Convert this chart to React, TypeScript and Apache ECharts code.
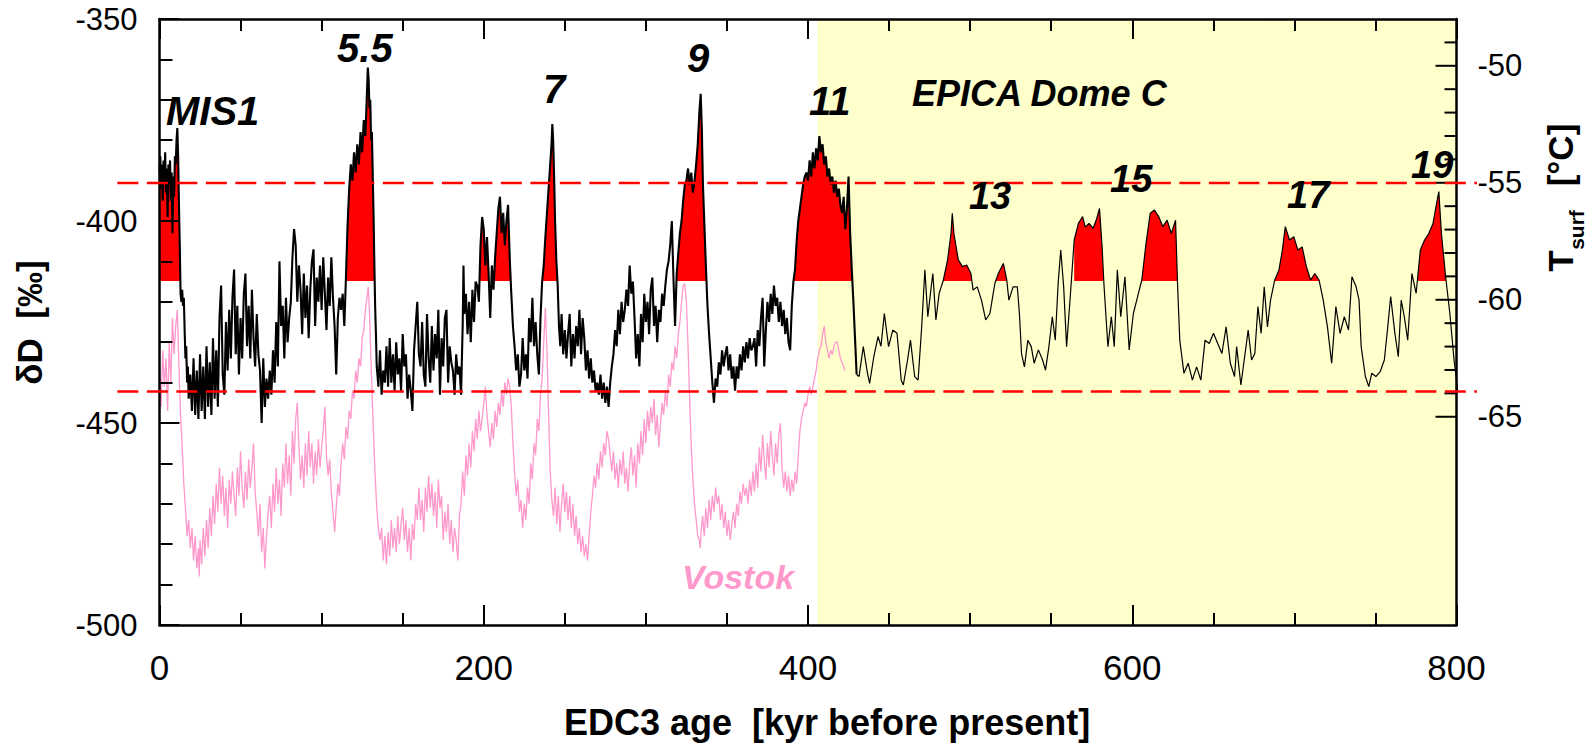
import React, { useEffect, useRef } from "react";
import * as echarts from "echarts";

// EPICA Dome C deuterium (age kyr BP, δD ‰) – high resolution part
const edcDense: [number, number][] = [
  [0,-388],[0.5,-384],[1,-392],[1.5,-386],[2,-395],[2.5,-385],[3,-390],[3.5,-383],[4,-393],[4.5,-387],[5,-399],[5.5,-386],[6,-391],[6.5,-385],[7,-395],[7.5,-388],[8,-403],[8.5,-389],[9,-394],[9.5,-384],[10,-386],[10.5,-380],[11,-377],[11.5,-384],[12,-396],[12.5,-406],[13,-418],[13.5,-420],[14,-417],[14.5,-421],[15,-419],[15.5,-427],[16,-434],[16.5,-431],[17,-440],[17.5,-436],[18,-444],
  [19,-438],[20,-447],[21,-434],[22,-448],[23,-437],[24,-449],[25,-433],[26,-447],[27,-436],[28,-449],[29,-431],[30,-446],[31,-435],[32,-448],[33,-429],[34,-444],[35,-432],[36,-446],[37,-424],[38,-416],[39,-438],[40,-443],[41,-425],[42,-437],[43,-422],[44,-434],[45,-419],[46,-412],[47,-433],[48,-421],[49,-438],[50,-424],[51,-434],[52,-418],[53,-413],[54,-431],[55,-421],[56,-434],[57,-417],[58,-429],[59,-436],[60,-423],[61,-433],[62,-437],[63,-450],[64,-434],[65,-446],[66,-439],[67,-444],[68,-437],[69,-443],[70,-432],[71,-440],[72,-425],[73,-436],[74,-410],[75,-426],[76,-421],[77,-434],[78,-419],[79,-430],[80,-424],[81,-420],[82,-409],[83,-402],[84,-406],[85,-420],[86,-411],[87,-417],[88,-428],[89,-413],[90,-424],[91,-416],[92,-429],[93,-417],[94,-410],[95,-407],[96,-426],[97,-414],[98,-420],[99,-411],[100,-422],[101,-409],[102,-418],[103,-427],[104,-414],[105,-421],[106,-409],[107,-419],[108,-426],[109,-438],[110,-424],[111,-419],[112,-422],[113,-418],[114,-426],
  [115,-414],[116,-401],[117,-392],[118,-386],[119,-390],[120,-383],[121,-388],[122,-381],[123,-386],[124,-378],[125,-383],[126,-375],[127,-379],[127.8,-370],[128.5,-362],[129,-365],[129.5,-372],[130,-370],[130.5,-380],[131,-378],[131.5,-388],[132,-398],[132.5,-410],[133,-421],[133.5,-428],[134,-436],[135,-441],
  [136,-432],[137,-443],[138,-437],[139,-440],[140,-431],[141,-441],[142,-429],[143,-440],[144,-433],[145,-442],[146,-430],[147,-438],[148,-434],[149,-442],[150,-428],[151,-436],[152,-433],[153,-444],[154,-438],[155,-442],[156,-447],[157,-432],[158,-426],[159,-420],[160,-433],[161,-436],[162,-425],[163,-438],[164,-441],[165,-423],[166,-434],[167,-440],[168,-426],[169,-437],[170,-428],[171,-434],[172,-422],[173,-443],[174,-429],[175,-436],[176,-424],[177,-422],[178,-440],[179,-431],[180,-435],[181,-437],[182,-443],[183,-433],[184,-438],[185,-436],[186,-443],[187,-426],[187.5,-411],[188,-423],[189,-418],[190,-428],[191,-420],[192,-430],[193,-417],[194,-425],[195,-415],[196,-416],[197,-420],[198,-406],[199,-399],[200,-402],[201,-411],[202,-404],[203,-413],[204,-424],[205,-411],[206,-417],[207,-409],[208,-403],[209,-397],[210,-394],[211,-403],[212,-398],[213,-406],[214,-400],[215,-396],[216,-409],[217,-418],[218,-426],[219,-431],[220,-437],[221,-433],[222,-441],[223,-438],[224,-429],[225,-437],[226,-433],[227,-439],[228,-424],[229,-430],[230,-419],[231,-431],[232,-425],[233,-433],[234,-438],[235,-424],[236,-415],[237,-411],[238,-404],[239,-398],[240,-392],[241,-386],[241.8,-381],[242.3,-376],[242.8,-380],[243.4,-389],[244,-400],[244.8,-410],[245.6,-416],[246.4,-426],[247.2,-431],
  [248,-423],[249,-433],[250,-427],[251,-434],[252,-428],[253,-423],[254,-436],[255,-428],[256,-434],[257,-426],[258,-431],[259,-422],[260,-433],[261,-424],[262,-429],[263,-437],[264,-432],[265,-439],[266,-434],[267,-440],[268,-437],[269,-442],[270,-440],[271,-443],[272,-438],[273,-444],[274,-440],[275,-445],[276,-441],[277,-446],[278,-440],[279,-436],[280,-433],[281,-427],[282,-431],[283,-422],[284,-428],[285,-420],[286,-425],[287,-422],[288,-417],[289,-421],[290,-411],[291,-418],[292,-415],[293,-424],[294,-434],[295,-428],[296,-436],[297,-423],[298,-430],[299,-418],[300,-425],[301,-420],[302,-428],[303,-417],[304,-414],[305,-426],[306,-421],[307,-430],[308,-422],[309,-425],[310,-418],[311,-421],[312,-416],[313,-412],[314,-410],[315,-406],[316,-400],[317,-414],[318,-426],[319,-413],[320,-408],[321,-403],[322,-400],[323,-395],[324,-391],[325,-390],[326,-387],[327,-391],[328,-388],[329,-393],[330,-390],[331,-386],[332,-381],[333,-373],[333.8,-368.5],[334.5,-377],[335.2,-391],[336,-400],[337,-411],[338,-421],[339,-428],[340,-434],[341,-440],[342,-445],
  [343,-439],[344,-441],[345,-435],[346,-438],[347,-432],[348,-436],[349,-433],[350,-431],[351,-437],[352,-433],[353,-439],[354,-436],[355,-442],[356,-436],[357,-439],[358,-433],[359,-437],[360,-431],[361,-435],[362,-430],[363,-434],[364,-429],[365,-432],[366,-431],[367,-429],[368,-436],[369,-427],[370,-431],[371,-424],[372,-419],[373,-436],[374,-427],[375,-420],[376,-425],[377,-418],[378,-423],[379,-416],[380,-421],[381,-419],[382,-425],[383,-420],[384,-426],[385,-422],[386,-428],[387,-424],[388,-430],[389,-432],[390,-421],[391,-415],[392,-412],[393,-405],[394,-400],[395,-397],[396,-394],[397,-391],[398,-389],[399,-388],[400,-390],
  [401,-385],[402,-389],[403,-383],[404,-387],[405,-382],[406,-385],[407,-379],[408,-383],[409,-381],[410,-386],[411,-384],[412,-389],[413,-387],[414,-391],[415,-389],[416,-393],[417,-390],[418,-394],[419,-392],[420,-396],[421,-398],[422,-394],[423,-402],[424,-397],[425,-389],[426,-403],[427,-412],[428,-420],[429,-429],[430,-438]
];

// EPICA Dome C deuterium – lower resolution older part
const edcCoarse: [number, number][] = [
  [430,-438],[431.5,-438.5],[434.1,-431.1],[436.7,-437.7],[438,-440.2],[440.6,-433.6],[443.2,-428.6],[445,-431],[447.1,-422.9],[449.7,-431.1],[452.3,-427],[454.9,-427.8],[457.5,-439.4],[458.8,-440.6],[461.4,-434.4],[463.2,-429.5],[465.8,-438.5],[467.9,-439.4],[470,-427],[472.1,-412.1],[473.9,-423.7],[475.5,-418],[477,-413],[478.9,-424.5],[480.9,-417.9],[483.5,-414.6],[486.1,-409.6],[488.2,-403.1],[489,-398.1],[490,-403.1],[492.7,-409.6],[495.3,-411.3],[497.9,-410.9],[500.5,-413],[501.8,-417.1],[504.4,-416.3],[507,-419.6],[509.6,-424.5],[512.2,-422.9],[515.3,-415.4],[517.4,-413],[520.5,-410.5],[522.6,-414.6],[523.9,-419.6],[526.5,-416.3],[529.1,-416.3],[530.4,-422.9],[531.7,-432.8],[533.5,-436.1],[535.6,-429.5],[537.7,-431.1],[539.5,-435.2],[542.1,-431.9],[544.7,-434.4],[546.5,-436.9],[548.6,-431.1],[550.7,-423.7],[552.5,-429.5],[554.3,-415.4],[555.9,-407.2],[557.7,-416.3],[559.5,-431.1],[561.6,-419.6],[564.2,-404.7],[566.8,-400.6],[569.4,-398.9],[571,-401.5],[573.3,-400.6],[575.9,-401.8],[578,-399.5],[579.8,-396.9],[581.4,-406.4],[582.5,-415.4],[583.8,-423.7],[585,-431.1],[587.1,-423.7],[588.9,-431.1],[590.8,-412.1],[592.9,-423.7],[595.5,-413.8],[598.1,-431.9],[600.7,-422.9],[603.3,-418.7],[605.9,-414.6],[608.5,-405.5],[611.1,-398.1],[613.7,-397.3],[616.3,-398.9],[618.9,-401.4],[621.5,-399.8],[624.1,-403.1],[626.7,-399.8],[628,-416.3],[629.3,-429.5],[631.9,-437.7],[634.5,-435.2],[637.1,-439.4],[639.7,-436.1],[642.3,-439.4],[644.9,-429.5],[647.5,-430.3],[650.1,-427.8],[652.7,-430.3],[655.3,-432.8],[657.9,-426.2],[660.5,-435.2],[663.1,-438.5],[664.4,-431.1],[667,-440.6],[669.6,-432.8],[671.5,-427],[673.6,-434.4],[675.6,-432.8],[677.5,-421.2],[679.5,-427.8],[681.4,-416.3],[683.4,-426.2],[685.3,-419.6],[687.9,-414.6],[690.5,-412.1],[692.6,-407.2],[694.4,-401.4],[697,-404.7],[699.6,-403.9],[702.2,-407.2],[704.8,-406.4],[707.4,-411.3],[710,-414.6],[712.6,-413],[715.2,-414.6],[717.8,-419.6],[720.4,-426.2],[723,-435.2],[725.6,-421.2],[728.2,-427.8],[730.8,-423.7],[733.4,-427],[735.5,-413.8],[738.1,-416.3],[739.9,-419.6],[741.2,-431.1],[743.8,-438.5],[745.9,-441],[747.7,-437.7],[750.3,-438.5],[752.9,-437.3],[755.5,-434.4],[757.6,-426.2],[759.4,-418.7],[762,-427.8],[764.1,-433.6],[765.9,-419.6],[767.8,-423.7],[769.9,-429.5],[772.5,-413],[775.1,-417.9],[777.7,-407.2],[780.3,-404.7],[782.9,-403.1],[785.5,-400.6],[788.1,-394.8],[789.1,-392.7],[790.7,-403.1],[793.3,-413.8],[795.9,-422.9],[798.5,-434.4],[801,-442.7]
];

// Vostok deuterium (shifted), age kyr BP, δD ‰
const vostok: [number, number][] = [
  [0,-438],[1,-446],[2,-432],[3,-441],[4,-434],[5,-447],[6,-430],[7,-440],[8,-424],[9,-433],[10,-426],[11,-422],[12,-436],[13,-448],[14,-456],[15,-465],[16,-471],[17,-478],[18,-474],[19,-481],[20,-476],[21,-484],[22,-478],[23,-486],[24,-481],[24.5,-488],[25,-479],[26,-485],[27,-476],[28,-483],[29,-474],[30,-481],[31,-471],[32,-478],[33,-468],[34,-475],[35,-465],[36,-472],[37,-461],[38,-470],[39,-463],[40,-473],[41,-466],[42,-476],[43,-464],[44,-470],[45,-462],[46,-468],[47,-473],[48,-461],[49,-468],[50,-457],[51,-466],[52,-471],[53,-462],[54,-469],[55,-459],[56,-466],[57,-461],[58,-455],[59,-467],[60,-472],[61,-478],[62,-470],[63,-482],[64,-476],[65,-486],[66,-478],[67,-472],[68,-468],[69,-476],[70,-465],[71,-472],[72,-461],[73,-470],[74,-464],[75,-473],[76,-460],[77,-466],[78,-455],[79,-465],[80,-458],[81,-468],[82,-452],[83,-460],[84,-449],[85,-445],[86,-456],[87,-464],[88,-458],[89,-466],[90,-455],[91,-463],[92,-452],[93,-461],[94,-455],[95,-465],[96,-457],[97,-463],[98,-454],[99,-461],[100,-456],[101,-452],[102,-446],[103,-458],[104,-463],[105,-459],[106,-467],[107,-472],[108,-477],[109,-471],[110,-465],[111,-468],[112,-460],[113,-455],[114,-459],[115,-451],[116,-454],[117,-447],[118,-449],[119,-442],[120,-444],[121,-437],[122,-440],[123,-434],[124,-436],[125,-429],[126,-427],[127,-422],[128,-419],[128.7,-416.3],[129.3,-420],[130,-429],[131,-441],[132,-453],[133,-463],[134,-471],[135,-476],[136,-479],[137,-476],[138,-484],[139,-478],[140,-485],[141,-477],[142,-483],[143,-474],[144,-481],[145,-476],[146,-482],[147,-473],[148,-480],[149,-475],[150,-471],[151,-479],[152,-474],[153,-482],[154,-476],[155,-484],[156,-475],[157,-479],[158,-470],[159,-474],[160,-466],[161,-474],[162,-469],[163,-477],[164,-466],[165,-472],[166,-463],[167,-471],[168,-465],[169,-473],[170,-467],[171,-476],[172,-464],[173,-471],[174,-468],[175,-479],[176,-472],[177,-477],[178,-470],[179,-480],[180,-474],[181,-482],[182,-476],[183,-479],[184,-484],[185,-473],[186,-470],[187,-462],[188,-468],[189,-458],[190,-463],[191,-455],[192,-461],[193,-452],[194,-457],[195,-449],[196,-454],[197,-447],[198,-452],[199,-449],[200,-445],[201,-441],[202,-448],[203,-452],[204,-456],[205,-450],[206,-454],[207,-447],[208,-451],[209,-445],[210,-448],[211,-442],[212,-446],[213,-440],[214,-443],[215,-439],[216,-441],[217,-446],[218,-455],[219,-462],[220,-468],[221,-464],[222,-472],[223,-469],[224,-476],[225,-470],[226,-474],[227,-466],[228,-470],[229,-460],[230,-464],[231,-455],[232,-458],[233,-449],[234,-452],[235,-443],[236,-439],[237,-430],[238,-421.5],[239,-432],[240,-448],[241,-462],[242,-469],[243,-473],[244,-466],[245,-475],[246,-468],[247,-477],[248,-470],[249,-465],[250,-472],[251,-467],[252,-474],[253,-468],[254,-476],[255,-470],[256,-478],[257,-473],[258,-480],[259,-476],[260,-482],[261,-478],[262,-483],[263,-480],[264,-484],[265,-478],[266,-472],[267,-468],[268,-463],[269,-466],[270,-460],[271,-464],[272,-457],[273,-461],[274,-455],[275,-458],[276,-452],[277,-454],[278,-458],[279,-462],[280,-457],[281,-464],[282,-460],[283,-466],[284,-459],[285,-463],[286,-457],[287,-465],[288,-461],[289,-467],[290,-460],[291,-456],[292,-463],[293,-458],[294,-466],[295,-455],[296,-460],[297,-452],[298,-458],[299,-449],[300,-455],[301,-447],[302,-452],[303,-446],[304,-450],[305,-444],[306,-453],[307,-448],[308,-456],[309,-450],[310,-445],[311,-448],[312,-442],[313,-446],[314,-438],[315,-441],[316,-435],[317,-437],[318,-431],[319,-434],[320,-428],[321,-425],[322,-420],[323,-416],[324,-415.5],[325,-420],[326,-431],[327,-444],[328,-456],[329,-464],[330,-470],[331,-474],[332,-478],[333,-479],[333.6,-481],[334,-477],[335,-473],[336,-478],[337,-471],[338,-476],[339,-469],[340,-474],[341,-468],[342,-472],[343,-466],[344,-470],[345,-468],[346,-474],[347,-470],[348,-476],[349,-472],[350,-478],[351,-474],[352,-479],[353,-475],[354,-472],[355,-476],[356,-470],[357,-473],[358,-467],[359,-470],[360,-465],[361,-468],[362,-466],[363,-470],[364,-464],[365,-468],[366,-462],[367,-467],[368,-460],[369,-466],[370,-456],[371,-462],[372,-453],[373,-459],[374,-464],[375,-455],[376,-461],[377,-452],[378,-458],[379,-463],[380,-455],[381,-460],[382,-453],[383,-450],[384,-461],[385,-466],[386,-462],[387,-467],[388,-463],[389,-468],[390,-464],[391,-467],[392,-462],[393,-465],[394,-458],[395,-452],[396,-449],[397,-447],[398,-445],[399,-446],[400,-443],[401,-441],[402,-443],[403,-441],[404,-439],[405,-437],[406,-434],[407,-432],[408,-431],[409,-428],[410,-426],[411,-430],[412,-432],[413,-434],[414,-432],[415,-433],[416,-431],[417,-430],[418,-430],[419,-432],[420,-434],[421,-435],[422,-436],[422.8,-437]
];

const interglacialThreshold = -415; // δD level above which interglacials are shaded red
// interglacial windows (kyr) in which the red shading is drawn
const interglacialWindows: [number, number][] = [
  [0, 13], [114, 134], [197, 247], [318, 340], [389, 430], [480, 525], [562, 583], [604, 630], [686, 720], [774, 796],
];
const referenceLevels = [-390.6, -442.2]; // dashed red lines (δD)
const referenceSpan = [-26, 812.6]; // kyr extent of dashed lines
const domeCOnlyStart = 406; // start of yellow EDC-only interval (kyr)
const ageRange = [0, 800];
const dDRange = [-500, -350];
const tsurfRange = [-73.9, -48];
const tsurfMajor = [-50, -55, -60, -65];
const tsurfMinor = [-49, -51, -52, -53, -54, -56, -57, -58, -59, -61, -62, -63, -64];

const annotations = [
  { text: "MIS1", age: 4, dD: -372.8, size: 40, color: "#000" },
  { text: "5.5", age: 109.5, dD: -357.2, size: 40, color: "#000" },
  { text: "7", age: 236.5, dD: -367.3, size: 40, color: "#000" },
  { text: "9", age: 325.4, dD: -359.7, size: 40, color: "#000" },
  { text: "11", age: 400.6, dD: -370.2, size: 40, color: "#000" },
  { text: "EPICA Dome C", age: 464.1, dD: -368.4, size: 36, color: "#000" },
  { text: "13", age: 499.3, dD: -393.9, size: 38, color: "#000" },
  { text: "15", age: 586.3, dD: -389.5, size: 38, color: "#000" },
  { text: "17", age: 695.5, dD: -393.6, size: 38, color: "#000" },
  { text: "19", age: 772, dD: -386.1, size: 38, color: "#000" },
  { text: "Vostok", age: 322.3, dD: -488.0, size: 34, color: "#ff99cc" },
];

const FONT = "'Liberation Sans', Arial, Helvetica, sans-serif";

export default function App() {
  const ref = useRef<HTMLDivElement>(null);

  useEffect(() => {
    if (!ref.current) return;
    const chart = echarts.init(ref.current, null, { renderer: "svg" });

    const axisLine = { show: true, onZero: false, lineStyle: { color: "#000", width: 2.5 } };
    const tickStyle = { color: "#000", width: 2 };

    const xCommon = {
      type: "value",
      min: ageRange[0],
      max: ageRange[1],
      interval: 200,
      z: 5,
      axisLine,
      axisTick: { show: true, inside: true, length: 20, lineStyle: tickStyle },
      minorTick: { show: true, splitNumber: 4, length: 12, lineStyle: tickStyle },
      splitLine: { show: false },
      minorSplitLine: { show: false },
    };

    const inWindow = (a: number) => interglacialWindows.some(([s, e]) => a >= s && a <= e);
    const edcAll = edcDense.concat(edcCoarse.slice(1));
    const fillData = edcAll.map(([a, v]) => (inWindow(a) ? [a, v] : [a, null]));

    chart.setOption({
      animation: false,
      backgroundColor: "#ffffff",
      grid: { left: 159.5, top: 19, width: 1297, height: 606, containLabel: false },
      xAxis: [
        {
          ...xCommon,
          position: "bottom",
          axisLabel: { color: "#000", fontSize: 35, fontFamily: FONT, margin: 25 },
        },
        {
          ...xCommon,
          position: "top",
          axisLabel: { show: false },
        },
      ],
      yAxis: [
        {
          type: "value",
          min: dDRange[0],
          max: dDRange[1],
          interval: 50,
          position: "left",
          z: 5,
          axisLine,
          axisTick: { show: true, inside: true, length: 20, lineStyle: tickStyle },
          minorTick: { show: true, splitNumber: 5, length: 13, lineStyle: tickStyle },
          splitLine: { show: false },
          minorSplitLine: { show: false },
          axisLabel: { color: "#000", fontSize: 31, fontFamily: FONT, margin: 22 },
        },
        {
          type: "value",
          min: tsurfRange[0],
          max: tsurfRange[1],
          position: "right",
          z: 5,
          axisLine,
          axisTick: { show: false },
          splitLine: { show: false },
          axisLabel: { show: false },
        },
      ],
      visualMap: [
        {
          type: "piecewise",
          show: false,
          seriesIndex: 1,
          dimension: 1,
          pieces: [
            { gt: interglacialThreshold + 0.15, lte: dDRange[1] + 100, color: "#ff0000" },
            { gt: dDRange[0] - 100, lte: interglacialThreshold + 0.15, color: "rgba(255,0,0,0)" },
          ],
          outOfRange: { color: "rgba(255,0,0,0)" },
        },
      ],
      series: [
        {
          name: "EDC only",
          type: "line",
          data: [[domeCOnlyStart, dDRange[0]]],
          symbol: "none",
          showSymbol: false,
          silent: true,
          z: 0,
          lineStyle: { width: 0 },
          markArea: {
            silent: true,
            itemStyle: { color: "#ffffcc" },
            data: [[{ xAxis: domeCOnlyStart }, { xAxis: ageRange[1] }]],
          },
        },
        {
          name: "interglacial",
          type: "line",
          data: fillData,
          symbol: "none",
          showSymbol: false,
          silent: true,
          connectNulls: false,
          z: 1,
          lineStyle: { width: 0, opacity: 0 },
          areaStyle: { origin: interglacialThreshold, opacity: 1 },
        },
        {
          name: "Vostok",
          type: "line",
          data: vostok,
          symbol: "none",
          showSymbol: false,
          z: 2,
          lineStyle: { color: "#ff99cc", width: 1.3 },
        },
        {
          name: "EPICA Dome C",
          type: "line",
          data: edcDense,
          symbol: "none",
          showSymbol: false,
          z: 3,
          lineStyle: { color: "#000", width: 2.1 },
        },
        {
          name: "EPICA Dome C (older)",
          type: "line",
          data: edcCoarse,
          symbol: "none",
          showSymbol: false,
          z: 3,
          lineStyle: { color: "#000", width: 1.2 },
        },
      ],
    });

    const toPx = (age: number, dD: number) =>
      chart.convertToPixel({ xAxisIndex: 0, yAxisIndex: 0 }, [age, dD]) as number[];

    const graphics: any[] = [];

    // right-hand Tsurf axis ticks and labels, positioned through yAxis[1]
    const xRight = chart.convertToPixel({ xAxisIndex: 0 }, ageRange[1]) as number;
    const tsurfTick = (v: number, len: number) => {
      const y = chart.convertToPixel({ yAxisIndex: 1 }, v) as number;
      return {
        type: "line",
        z: 40,
        silent: true,
        shape: { x1: xRight - len, y1: y, x2: xRight, y2: y },
        style: { stroke: "#000", lineWidth: 2 },
      };
    };
    tsurfMinor.forEach((v) => graphics.push(tsurfTick(v, 12)));
    tsurfMajor.forEach((v) => {
      graphics.push(tsurfTick(v, 21));
      const y = chart.convertToPixel({ yAxisIndex: 1 }, v) as number;
      graphics.push({
        type: "text",
        z: 40,
        silent: true,
        x: xRight + 21,
        y,
        style: {
          text: String(v),
          fill: "#000",
          font: `31px ${FONT}`,
          align: "left",
          verticalAlign: "middle",
          textAlign: "left",
          textVerticalAlign: "middle",
        },
      });
    });

    referenceLevels.forEach((lvl) => {
      const a = toPx(referenceSpan[0], lvl);
      const b = toPx(referenceSpan[1], lvl);
      graphics.push({
        type: "line",
        z: 50,
        silent: true,
        shape: { x1: a[0], y1: a[1], x2: b[0], y2: b[1] },
        style: { stroke: "#ff0000", lineWidth: 2.5, lineDash: [21, 8.5] },
      });
    });
    annotations.forEach((an) => {
      const p = toPx(an.age, an.dD);
      graphics.push({
        type: "text",
        z: 60,
        silent: true,
        x: p[0],
        y: p[1],
        style: {
          text: an.text,
          fill: an.color,
          font: `italic bold ${an.size}px ${FONT}`,
          align: "left",
          verticalAlign: "middle",
          textAlign: "left",
          textVerticalAlign: "middle",
        },
      });
    });
    const title = (text: string, x: number, y: number, size: number, rot: number, align = "center") => ({
      type: "text",
      z: 60,
      silent: true,
      x,
      y,
      rotation: rot,
      style: {
        text,
        fill: "#000",
        font: `bold ${size}px ${FONT}`,
        align,
        verticalAlign: "middle",
        textAlign: align,
        textVerticalAlign: "middle",
      },
    });
    graphics.push(title("EDC3 age  [kyr before present]", 564, 722, 36, 0, "left"));
    graphics.push(title("\u03b4D  [\u2030]", 29.5, 322.5, 35, Math.PI / 2));
    graphics.push(title("T", 1560.5, 261, 35, Math.PI / 2));
    graphics.push(title("surf", 1576, 230, 21, Math.PI / 2));
    graphics.push(title("[\u00b0C]", 1560.5, 155, 35, Math.PI / 2));

    chart.setOption({ graphic: graphics });

    return () => chart.dispose();
  }, []);

  return (
    <div
      ref={ref}
      style={{ position: "absolute", left: 0, top: 0, width: 1593, height: 744 }}
    />
  );
}
